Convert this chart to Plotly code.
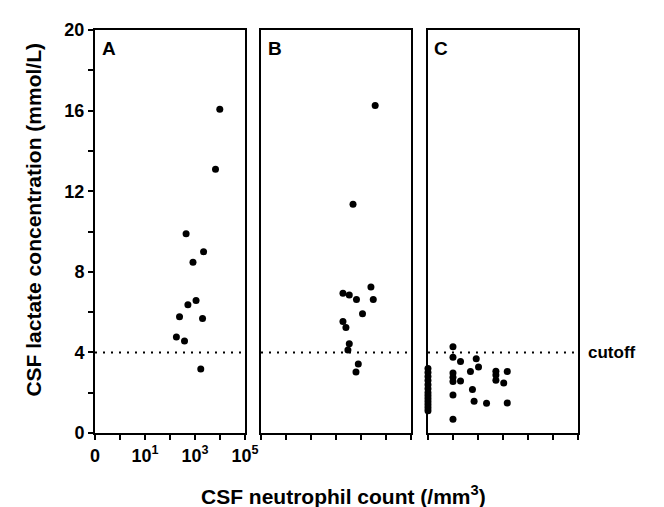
import plotly.graph_objects as go

# ---- data ----
y_ticks = [0, 2, 4, 6, 8, 10, 12, 14, 16, 18, 20]
y_ticktext = ["0", "", "4", "", "8", "", "12", "", "16", "", "20"]
x_tickvals = [0.1, 1, 10, 100, 1000, 10000, 100000]   # 0.1 stands for a count of 0
x_ticktext = ["0", "", "10<sup>1</sup>", "", "10<sup>3</sup>", "", "10<sup>5</sup>"]
cutoff = 4

a_count = [9800, 6600, 440, 2200, 830, 1100, 520, 240, 2000, 180, 380, 1700]
a_lactate = [16.07, 13.09, 9.89, 9.0, 8.48, 6.58, 6.37, 5.77, 5.68, 4.77, 4.56, 3.18]

b_count = [3700, 480, 2500, 190, 340, 660, 3100, 1150, 190, 250, 340, 300, 780, 630]
b_lactate = [16.25, 11.35, 7.24, 6.94, 6.85, 6.63, 6.63, 5.92, 5.53, 5.24, 4.43, 4.12, 3.42, 3.03]

c_count = [0] * 13 + [1, 1, 1, 1, 1, 1, 1, 2, 2, 5, 6, 7, 8.5, 10.5, 22,
                      52, 52, 52, 107, 148, 148]
c_lactate = [3.2, 3.0, 2.8, 2.6, 2.4, 2.2, 2.0, 1.85, 1.7, 1.55, 1.4, 1.25, 1.1,
             4.28, 3.76, 2.98, 2.77, 2.55, 1.88, 0.68,
             3.55, 2.58, 3.05, 2.16, 1.57, 3.68, 3.28, 1.48,
             3.07, 2.88, 2.62, 2.48, 3.05, 1.49]

panels = ["A", "B", "C"]
ZERO_POS = 0.1

FONT = "Liberation Sans, Arial, sans-serif"

fig = go.Figure()
data = [(a_count, a_lactate), (b_count, b_lactate), (c_count, c_lactate)]
domains = [[0, 0.3106], [0.3437, 0.6542], [0.6894, 1.0]]

for i, (cnt, lac) in enumerate(data):
    xs = [c if c > 0 else ZERO_POS for c in cnt]
    suffix = "" if i == 0 else str(i + 1)
    fig.add_trace(go.Scatter(
        x=xs, y=lac, mode="markers",
        marker=dict(color="black", size=7),
        xaxis="x" + suffix, yaxis="y" + suffix,
        cliponaxis=False, showlegend=False, hoverinfo="skip"))
    ax = dict(
        type="log", domain=domains[i], range=[-1, 5],
        tickvals=x_tickvals,
        ticktext=x_ticktext if i == 0 else [""] * len(x_tickvals),
        ticks="outside", ticklen=5, tickwidth=1.5, tickcolor="black",
        showline=True, linewidth=2, linecolor="black", mirror=True,
        showgrid=False, zeroline=False,
        anchor="y" + suffix,
        tickfont=dict(size=18, color="black", family=FONT, weight="bold"),
    )
    ay = dict(
        range=[0, 20], tickvals=y_ticks,
        ticktext=y_ticktext if i == 0 else [""] * len(y_ticks),
        ticks="outside" if i == 0 else "", ticklen=5, tickwidth=1.5, tickcolor="black",
        showline=True, linewidth=2, linecolor="black", mirror=True,
        showgrid=False, zeroline=False,
        anchor="x" + suffix,
        tickfont=dict(size=18, color="black", family=FONT, weight="bold"),
    )
    fig.update_layout(**{"xaxis" + suffix: ax, "yaxis" + suffix: ay})
    # cutoff dotted line
    fig.add_shape(type="line", xref="x" + suffix, yref="y" + suffix,
                  x0=ZERO_POS, x1=100000, y0=cutoff, y1=cutoff,
                  line=dict(color="black", width=2, dash="2px,6px"))
    # panel letter
    fig.add_annotation(text="<b>%s</b>" % panels[i], xref="x%s domain" % suffix,
                       yref="y%s domain" % suffix, x=0.03, y=0.985,
                       xanchor="left", yanchor="top", showarrow=False,
                       font=dict(size=19, color="black", family=FONT))

fig.add_annotation(text="<b>cutoff</b>", xref="paper", yref="y3", x=1.017, y=cutoff,
                   xanchor="left", yanchor="middle", showarrow=False,
                   font=dict(size=17, color="black", family=FONT))
fig.add_annotation(text="<b>CSF lactate concentration (mmol/L)</b>", xref="paper",
                   yref="paper", x=-0.128, y=0.53, textangle=-90,
                   xanchor="center", yanchor="middle", showarrow=False,
                   font=dict(size=21, color="black", family=FONT))
fig.add_annotation(text="<b>CSF neutrophil count (/mm<sup>3</sup>)</b>", xref="paper",
                   yref="paper", x=0.514, y=-0.155,
                   xanchor="center", yanchor="middle", showarrow=False,
                   font=dict(size=21, color="black", family=FONT))

fig.update_layout(
    width=656, height=499,
    margin=dict(l=87, r=86, t=14, b=74),
    paper_bgcolor="white", plot_bgcolor="white",
    font=dict(family=FONT, color="black"),
)

fig.write_html("out.html")
